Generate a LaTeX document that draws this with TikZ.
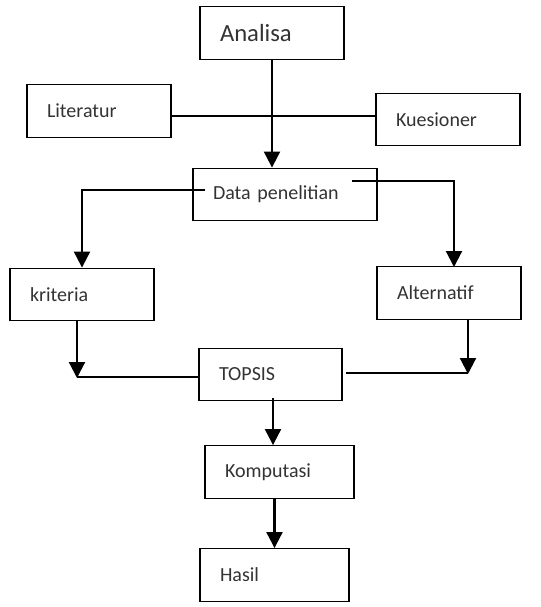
\documentclass[tikz,border=0pt]{standalone}
\usepackage{fontspec}
\setmainfont{Carlito}
\usetikzlibrary{arrows.meta}
\begin{document}
\begin{tikzpicture}[x=0.75pt,y=-0.75pt,
  box/.style={draw=black,line width=1pt,inner xsep=15pt,inner ysep=0pt,align=left,
    minimum height=39.4pt,font=\fontsize{15}{18}\selectfont,text=black!80},
  arr/.style={line width=1.6pt,-{Triangle[width=12pt,length=12pt]}},
  ln/.style={line width=1.1pt}]
\useasboundingbox (0,0) rectangle (541,607);
\node[box,minimum width=108pt,text width=78pt,font=\fontsize{18.5}{22}\selectfont] (ana) at (272,33) {Analisa};
\node[box,minimum width=108pt,text width=78pt] (lit) at (99,111) {Literatur};
\node[box,minimum width=108pt,text width=78pt] (kue) at (448,119.5) {Kuesioner};
\node[box,minimum width=138pt,text width=108pt] (data) at (285,194.5) {Data penelitian};
\node[box,minimum width=108pt,text width=78pt] (kri) at (82,294.5) {kriteria};
\node[box,minimum width=108pt,text width=78pt] (alt) at (449,293) {Alternatif};
\node[box,minimum width=107.25pt,text width=77.25pt] (top) at (270.5,374.5) {TOPSIS};
\node[box,minimum width=111.75pt,text width=81.75pt] (komp) at (279.5,472) {Komputasi};
\node[box,minimum width=111.75pt,text width=81.75pt] (has) at (274.5,575) {Hasil};
% coordinates
\coordinate (lk) at (171,116);
\coordinate (dL) at (205,190);
\coordinate (dR) at (352,181);
\coordinate (altIn) at (454,267);
\coordinate (kB) at (77,378);
\coordinate (aB) at (468,374);
\coordinate (tR) at (346,373);
\coordinate (tB) at (273,398);
% connectors
\draw[ln] (lit.east |- lk) -- (kue.west |- lk);
\draw[arr] (ana.south) -- (ana.south |- data.north);
\draw[arr] (dL) -| (kri.north);
\draw[arr] (dR) -| (altIn);
\draw[arr] (kri.south -| kB) -- (kB);
\draw[ln] (kB) ++(0,-1) -- (top.west |- 0,377);
\draw[arr] (alt.south -| aB) -- (aB);
\draw[ln] (tR) -- (tR -| aB);
\draw[arr] (tB) -- (tB |- komp.north);
\draw[arr] (has.north |- komp.south) -- (has.north);
\end{tikzpicture}
\end{document}
